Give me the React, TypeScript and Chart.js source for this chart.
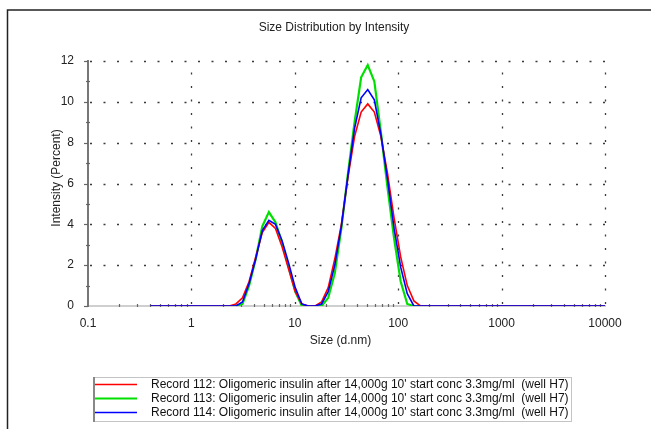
import React, { useEffect, useRef } from "react";
import { Chart, registerables } from "chart.js";

Chart.register(...registerables);

// Size bins (d.nm) — Zetasizer bins around the peaks, plus range ends
const sizes = [0.4, 2.328, 2.696, 3.122, 3.615, 4.187, 4.849, 5.615, 6.503, 7.531, 8.721, 10.1, 11.7, 13.54, 15.69, 18.17, 21.04, 24.36, 28.21, 32.67, 37.84, 43.82, 50.75, 58.77, 68.06, 78.82, 91.28, 105.7, 122.4, 141.8, 164.2, 190.1, 10000];

const record112 = [0, 0, 0.1, 0.4, 1.2, 2.4, 3.6, 4.1, 3.8, 2.9, 1.8, 0.7, 0.1, 0, 0, 0.2, 0.9, 2.3, 4.0, 6.3, 8.3, 9.5, 9.9, 9.5, 8.3, 6.5, 4.3, 2.4, 1.0, 0.25, 0, 0, 0];
const record113 = [0, 0, 0, 0.1, 1.0, 2.3, 3.9, 4.6, 4.1, 3.1, 1.9, 0.7, 0, 0, 0, 0, 0.4, 1.6, 3.8, 6.5, 9.0, 11.2, 11.8, 11.0, 8.5, 5.8, 3.3, 1.2, 0.1, 0, 0, 0, 0];
const record114 = [0, 0, 0, 0.2, 1.1, 2.3, 3.7, 4.2, 4.0, 3.2, 2.1, 0.9, 0.1, 0, 0, 0.1, 0.7, 2.0, 3.9, 6.4, 8.7, 10.2, 10.6, 10.1, 8.4, 6.2, 3.8, 1.9, 0.6, 0, 0, 0, 0];

const seriesLabels = [
  "Record 112: Oligomeric insulin after 14,000g 10' start conc 3.3mg/ml  (well H7)",
  "Record 113: Oligomeric insulin after 14,000g 10' start conc 3.3mg/ml  (well H7)",
  "Record 114: Oligomeric insulin after 14,000g 10' start conc 3.3mg/ml  (well H7)",
];
const seriesColors = ["#ff0000", "#00e000", "#0000ff"];
const seriesWidths = [1.6, 2.2, 1.6];

const xTicks = [0.1, 1, 10, 100, 1000, 10000];
const yTicks = [0, 2, 4, 6, 8, 10, 12];

const titleText = "Size Distribution by Intensity";
const xTitle = "Size (d.nm)";
const yTitle = "Intensity (Percent)";

const FONT = "'Liberation Sans', Arial, sans-serif";

const decorPlugin = {
  id: "decor",
  beforeDatasetsDraw(chart: any) {
    const { ctx, chartArea, scales } = chart;
    const { left, right, top, bottom } = chartArea;
    const xs = scales.x;
    const ys = scales.y;
    ctx.save();
    // dotted grid
    ctx.strokeStyle = "#3a3a3a";
    ctx.lineWidth = 1.3;
    ctx.setLineDash([2, 11.5]);
    yTicks.forEach((v) => {
      if (v === 0) return;
      const py = Math.round(ys.getPixelForValue(v)) + 0.5;
      ctx.beginPath();
      ctx.moveTo(left + 2, py);
      ctx.lineTo(right, py);
      ctx.stroke();
    });
    xTicks.forEach((v) => {
      if (v === 0.1) return;
      const px = Math.round(xs.getPixelForValue(v)) + 0.5;
      ctx.beginPath();
      ctx.moveTo(px, bottom - 2);
      ctx.lineTo(px, top);
      ctx.stroke();
    });
    ctx.setLineDash([]);
    // minor ticks on x axis
    ctx.strokeStyle = "#666";
    ctx.lineWidth = 1.2;
    for (let d = 0; d < xTicks.length - 1; d++) {
      for (let m = 2; m <= 9; m++) {
        const px = Math.round(xs.getPixelForValue(xTicks[d] * m)) + 0.5;
        ctx.beginPath();
        ctx.moveTo(px, bottom - 2);
        ctx.lineTo(px, bottom + 1);
        ctx.stroke();
      }
    }
    // y minor and major ticks
    for (let v = 1; v < 12; v += 2) {
      const py = Math.round(ys.getPixelForValue(v)) + 0.5;
      ctx.beginPath();
      ctx.moveTo(left - 2, py);
      ctx.lineTo(left + 2, py);
      ctx.stroke();
    }
    yTicks.forEach((v) => {
      const py = Math.round(ys.getPixelForValue(v)) + 0.5;
      ctx.beginPath();
      ctx.moveTo(left - 4, py);
      ctx.lineTo(left, py);
      ctx.stroke();
    });
    ctx.restore();
  },
  afterDraw(chart: any) {
    const { ctx, chartArea } = chart;
    ctx.save();
    // frame
    ctx.strokeStyle = "#222";
    ctx.lineWidth = 1.5;
    ctx.beginPath();
    ctx.moveTo(651, 10);
    ctx.lineTo(7.5, 10);
    ctx.lineTo(7.5, 429);
    ctx.stroke();
    // title
    ctx.fillStyle = "#222";
    ctx.font = `12px ${FONT}`;
    ctx.textAlign = "center";
    ctx.textBaseline = "middle";
    ctx.fillText(titleText, 334, 28);
    // x title
    ctx.fillText(xTitle, (chartArea.left + chartArea.right) / 2 - 6, 341);
    // y title
    ctx.save();
    ctx.translate(57, 178);
    ctx.rotate(-Math.PI / 2);
    ctx.fillText(yTitle, 0, 0);
    ctx.restore();
    // legend
    const bx = 93, by = 377, bw = 478, bh = 44;
    ctx.fillStyle = "#fff";
    ctx.fillRect(bx, by, bw, bh);
    ctx.strokeStyle = "#c4c4c4";
    ctx.lineWidth = 1;
    ctx.strokeRect(bx + 0.5, by + 0.5, bw, bh);
    ctx.strokeStyle = "#888";
    ctx.lineWidth = 2;
    ctx.beginPath();
    ctx.moveTo(bx + 1, by);
    ctx.lineTo(bx + 1, by + bh + 1);
    ctx.stroke();
    ctx.textAlign = "left";
    ctx.font = `12px ${FONT}`;
    seriesLabels.forEach((lab, i) => {
      const ly = 384 + i * 14;
      ctx.strokeStyle = seriesColors[i];
      ctx.lineWidth = seriesWidths[i];
      ctx.beginPath();
      ctx.moveTo(95, ly + 0.5);
      ctx.lineTo(137, ly + 0.5);
      ctx.stroke();
      ctx.fillStyle = "#111";
      ctx.fillText(lab, 151, ly + 1);
    });
    ctx.restore();
  },
};

export default function App() {
  const ref = useRef<HTMLCanvasElement>(null);
  useEffect(() => {
    if (!ref.current) return;
    const series = [record112, record113, record114];
    const chart = new Chart(ref.current, {
      type: "line",
      data: {
        datasets: series.map((vals, i) => ({
          label: seriesLabels[i],
          data: sizes.map((s, j) => ({ x: s, y: vals[j] })),
          borderColor: seriesColors[i],
          backgroundColor: seriesColors[i],
          borderWidth: seriesWidths[i],
          pointRadius: 0,
          tension: 0,
          fill: false,
          order: i === 2 ? 0 : i === 0 ? 1 : 2,
        })),
      },
      options: {
        animation: false,
        responsive: false,
        devicePixelRatio: 1,
        layout: { padding: { left: 0, right: 46, top: 61, bottom: 0 } },
        plugins: {
          legend: { display: false },
          title: { display: false },
          tooltip: { enabled: false },
        },
        scales: {
          x: {
            type: "logarithmic",
            min: 0.1,
            max: 10000,
            grid: { display: false },
            border: { display: true, color: "#cfcfcf", width: 2 },
            afterBuildTicks: (s: any) => {
              s.ticks = xTicks.map((v) => ({ value: v }));
            },
            afterFit: (s: any) => {
              s.height = 123;
            },
            ticks: {
              autoSkip: false,
              maxRotation: 0,
              padding: 2,
              color: "#222",
              font: { family: FONT, size: 12 },
              callback: (v: any) => String(v),
            },
          },
          y: {
            type: "linear",
            min: 0,
            max: 12,
            grid: { display: false },
            border: { display: true, color: "#777", width: 2 },
            afterBuildTicks: (s: any) => {
              s.ticks = yTicks.map((v) => ({ value: v }));
            },
            afterFit: (s: any) => {
              s.width = 88;
            },
            ticks: {
              padding: 6,
              color: "#222",
              font: { family: FONT, size: 12 },
            },
          },
        },
      },
      plugins: [decorPlugin],
    });
    return () => chart.destroy();
  }, []);
  return (
    <div style={{ position: "absolute", left: 0, top: 0, width: 651, height: 429, background: "#fff" }}>
      <canvas ref={ref} width={651} height={429} style={{ display: "block" }} />
    </div>
  );
}
